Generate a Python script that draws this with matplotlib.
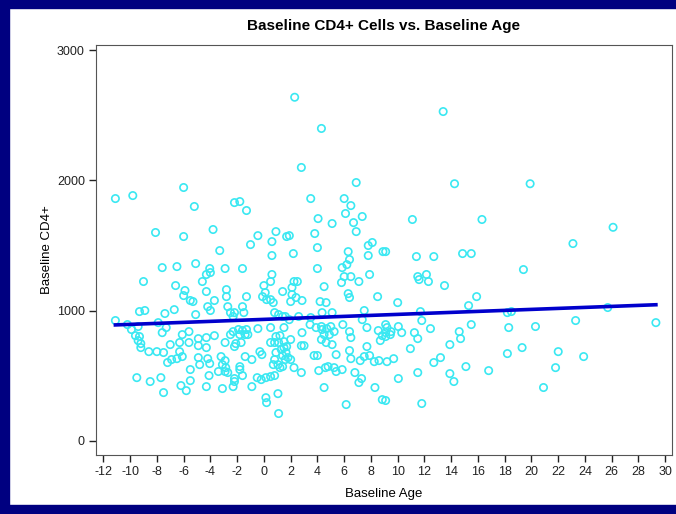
import matplotlib
matplotlib.use("Agg")
import matplotlib.pyplot as plt
from matplotlib.patches import Rectangle

# values
age = [
    -11.1, -9.8, -6.0, -8.1, -6.0, -7.6, -6.5,
    -9.0, -6.6, -5.9, -6.0, -5.5,
    -9.3, -8.9, -7.4, -6.7,
    -11.1, -10.2, -9.9, -9.4, -9.6, -9.3, -9.4, -9.2, -9.2,
    -7.9, -7.6, -7.3, -8.6, -8.0, -7.5,
    -7.0, -6.3, -6.1, -5.6, -5.6, -6.3,
    -7.2, -6.9, -6.5, -6.1, -5.5,
    -9.5, -8.5, -7.7, -7.5, -6.2, -5.8, -5.5,
    -5.2, -3.8, -3.3, -5.1, -4.05, -2.9, -1.6,
    -4.3, -4.0, -4.6, -4.3, -2.8, -2.8, -3.7, -4.2, -4.0, -5.1, -5.3,
    -3.7, -4.3, -4.3, -4.9, -4.9, -2.9, -2.5, -2.3,
    -4.9, -4.8, -4.2, -4.05, -3.2, -2.9, -3.1, -2.85, -2.7, -2.9, -3.4, -4.1,
    -4.3, -3.1, -2.3, -2.2, -2.2,
    -2.2, -1.8, -1.3, -0.45, -1.0,
    -2.7, -2.5, -2.2, -2.3, -1.6, -1.5, -1.3,
    -1.9, -1.6, -1.3, -1.8, -1.4, -1.2, -2.1, -2.2, -1.7, -0.45,
    -1.4, -0.9, -0.3, -0.15,
    -1.8, -1.6, -1.8, -0.9, -0.5, -0.2,
    0.0, 0.1, -0.1, 0.2, 0.7, 0.5,
    0.9, 1.7, 0.6, 0.6, 0.6, 0.5, 1.4,
    0.8, 1.1, 1.4, 1.6, 0.5, 1.5,
    0.9, 1.2, 1.5, 1.1, 0.8, 0.5,
    0.15, 0.5, 0.8, 1.05, 1.2, 1.4, 1.6, 1.4, 1.65, 1.8,
    1.3, 1.5, 1.7, 0.9, 0.8, 0.7,
    0.15, 0.2, 1.05, 1.1,
    2.3, 4.3, 2.8, 6.9, 3.5, 6.0, 6.5, 6.1, 7.35, 4.05, 5.1, 6.7, 6.9,
    1.9, 3.8, 2.2, 4.0, 6.3, 6.4, 6.2, 7.8, 8.1, 7.8, 8.9, 5.85, 4.0,
    2.25, 2.5, 2.1, 2.1, 2.4, 2.85, 2.0, 4.5, 5.8, 6.0, 6.5, 7.1, 6.3, 6.4,
    7.9, 8.5, 4.2, 4.65,
    1.9, 2.6, 3.5, 4.35, 5.1, 7.5, 7.35,
    3.45, 3.9, 4.3, 4.35, 4.7, 5.0, 5.25, 4.9, 4.5, 4.3,
    5.9, 6.4, 6.5, 7.7, 8.55, 8.85, 8.7,
    2.85, 2.0, 2.8, 3.0, 4.65, 5.1,
    3.75, 4.0, 5.4, 6.4, 6.5, 7.7, 7.9, 7.5, 7.2, 8.25, 8.6,
    2.25, 2.8, 2.0, 4.1, 4.6, 4.8, 5.25, 5.4, 5.85, 6.8, 7.3, 7.1,
    4.5, 8.3, 8.85, 6.15,
    13.4, 14.25, 11.1, 16.3, 9.1, 11.4, 12.7, 14.85, 15.5,
    11.5, 11.6, 12.15, 12.3, 13.5, 15.9, 10.0, 15.3, 11.7, 11.8, 15.5,
    9.1, 9.2, 9.1, 9.5, 10.05, 10.3, 9.45, 9.1,
    12.45, 11.25, 11.5, 14.6, 14.7, 10.95, 13.9, 9.7, 9.2, 12.7, 13.2,
    15.1, 11.5, 10.05, 13.9, 14.2, 9.1, 11.8,
    18.2, 18.5, 25.7, 29.3, 18.3, 20.3, 23.3, 19.3, 18.2, 22.0, 23.9,
    16.8, 21.8, 20.9, 26.1, 23.1, 19.4, 19.9,
]
cd4 = [
    1861, 1884, 1946, 1600, 1569, 1330, 1338,
    1223, 1192, 1154, 1115, 1077,
    992, 1000, 977, 1007,
    923, 892, 854, 877, 807, 800, 769, 746, 715,
    907, 830, 869, 684, 684, 677,
    738, 754, 815, 838, 754, 684,
    600, 623, 630, 646, 546,
    484, 454, 484, 369, 423, 384, 461,
    1800, 1623, 1461, 1361, 1323, 1323, 1323,
    1277, 1292, 1223, 1146, 1161, 1107, 1077, 1030, 1000, 969, 1069,
    807, 792, 715, 730, 784, 754, 815, 838,
    638, 584, 630, 592, 646, 615, 584, 561, 523, 531, 531, 500,
    415, 400, 415, 454, 477,
    1830, 1838, 1769, 1576, 1507,
    1030, 984, 984, 954, 1030, 984, 1107,
    854, 846, 854, 815, 815, 815, 746, 723, 754, 861,
    646, 623, 684, 661,
    546, 500, 569, 415, 484, 469,
    1192, 1138, 1107, 1084, 1061, 1084,
    1607, 1569, 1530, 1423, 1277, 1223, 1146,
    984, 969, 954, 954, 869, 869,
    800, 807, 761, 754, 754, 754,
    484, 492, 500, 584, 561, 569, 623, 654, 677, 638,
    700, 715, 723, 677, 623, 584,
    330, 292, 361, 208,
    2640, 2400, 2100, 1984, 1861, 1861, 1807, 1746, 1723, 1707, 1669, 1676, 1607,
    1576, 1592, 1438, 1484, 1453, 1392, 1353, 1500, 1523, 1423, 1453, 1330, 1323,
    1223, 1223, 1177, 1123, 1100, 1077, 1069, 1184, 1215, 1261, 1261, 1223, 1130, 1100,
    1277, 1107, 1069, 1061,
    930, 954, 946, 984, 984, 1000, 930,
    892, 869, 877, 854, 861, 877, 838, 815, 815, 777,
    892, 838, 792, 869, 846, 807, 769,
    830, 777, 730, 730, 754, 738,
    654, 654, 661, 692, 630, 723, 654, 646, 615, 607, 615,
    561, 523, 623, 538, 561, 569, 561, 531, 546, 523, 477, 446,
    408, 408, 315, 277,
    2530, 1975, 1700, 1700, 1453, 1415, 1415, 1438, 1438,
    1261, 1238, 1277, 1223, 1192, 1107, 1061, 1038, 992, 923, 892,
    892, 869, 830, 838, 877, 830, 815, 800,
    861, 830, 784, 838, 784, 707, 738, 630, 607, 600, 638,
    569, 523, 477, 515, 454, 308, 285,
    984, 992, 1023, 907, 869, 877, 923, 715, 669, 684, 646,
    538, 561, 408, 1640, 1515, 1315, 1975,
]

# fitted line as drawn in the reference
fit_intercept = 932
fit_slope = 3.84

x_ticks = list(range(-12, 31, 2))
y_ticks = [0, 1000, 2000, 3000]


def main():
    plt.rcParams["font.family"] = ["Liberation Sans", "DejaVu Sans"]
    plt.rcParams["axes.unicode_minus"] = False
    fig = plt.figure(figsize=(6.76, 5.14), dpi=100)
    ax = fig.add_axes([0.142, 0.115, 0.852, 0.797])

    ax.scatter(age, cd4, s=28, facecolors="none", edgecolors="#3ae8f2",
               linewidths=1.2, zorder=2)

    x0, x1 = min(age), max(age)
    ax.plot([x0, x1], [fit_intercept + fit_slope * x0, fit_intercept + fit_slope * x1],
            color="#0000cc", lw=2.6, zorder=3)

    ax.set_xlim(-12.55, 30.5)
    ax.set_ylim(-110, 3040)
    ax.set_xticks(x_ticks)
    ax.set_yticks(y_ticks)
    ax.tick_params(direction="out", length=5, width=1, labelsize=9, pad=3,
                   colors="#222222")
    for sp in ax.spines.values():
        sp.set_color("#555555")

    ax.set_title("Baseline CD4+ Cells vs. Baseline Age", fontsize=11,
                 fontweight="bold", pad=11)
    ax.set_xlabel("Baseline Age", fontsize=9.5, labelpad=7)
    ax.set_ylabel("Baseline CD4+", fontsize=9.5, labelpad=3)

    # dark blue frame round the picture
    navy = "#000080"
    fig.add_artist(Rectangle((0, 0), 0.014, 1, transform=fig.transFigure, color=navy))
    fig.add_artist(Rectangle((0, 0.985), 1, 0.015, transform=fig.transFigure, color=navy))
    fig.add_artist(Rectangle((0, 0), 1, 0.018, transform=fig.transFigure, color=navy))

    fig.savefig("out.png", dpi=100)


if __name__ == "__main__":
    main()
